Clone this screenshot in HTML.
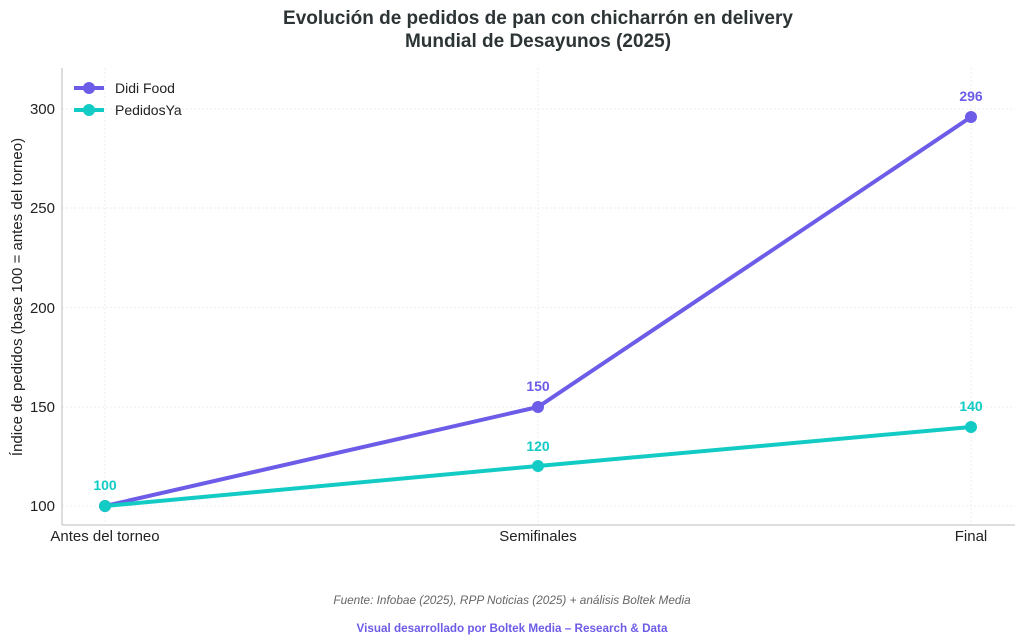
<!DOCTYPE html>
<html><head><meta charset="utf-8"><style>
body{margin:0;background:#fff;}
svg{display:block;font-family:"Liberation Sans",sans-serif;}
</style></head><body>
<svg width="1024" height="644" viewBox="0 0 1024 644" xmlns="http://www.w3.org/2000/svg">
<rect width="1024" height="644" fill="#fff"/>
<text x="538" y="24" text-anchor="middle" font-size="19" font-weight="bold" fill="#2d3436">Evolución de pedidos de pan con chicharrón en delivery</text>
<text x="538" y="47" text-anchor="middle" font-size="19" font-weight="bold" fill="#2d3436">Mundial de Desayunos (2025)</text>
<g stroke="#ededed" stroke-width="1" stroke-dasharray="2,2">
<line x1="62" x2="1015" y1="506" y2="506"/>
<line x1="62" x2="1015" y1="407" y2="407"/>
<line x1="62" x2="1015" y1="307.5" y2="307.5"/>
<line x1="62" x2="1015" y1="208" y2="208"/>
<line x1="62" x2="1015" y1="109" y2="109"/>
<line x1="105" x2="105" y1="68" y2="525"/>
<line x1="538" x2="538" y1="68" y2="525"/>
<line x1="971" x2="971" y1="68" y2="525"/>
</g>
<line x1="62" y1="68" x2="62" y2="525" stroke="#bbb"/>
<line x1="62" y1="525" x2="1015" y2="525" stroke="#bbb"/>
<g font-size="15" fill="#222" text-anchor="end">
<text x="55" y="511">100</text><text x="55" y="412">150</text><text x="55" y="313">200</text><text x="55" y="213">250</text><text x="55" y="114">300</text>
</g>
<g font-size="15" fill="#222" text-anchor="middle">
<text x="105" y="541">Antes del torneo</text><text x="538" y="541">Semifinales</text><text x="971" y="541">Final</text>
</g>
<text transform="translate(22,297) rotate(-90)" text-anchor="middle" font-size="15" fill="#222">Índice de pedidos (base 100 = antes del torneo)</text>
<polyline points="105,506 538,407 971,117" fill="none" stroke="#6c5ce7" stroke-width="4"/>
<polyline points="105,506 538,466 971,427" fill="none" stroke="#12cbc4" stroke-width="4"/>
<g fill="#6c5ce7"><circle cx="105" cy="506" r="6"/><circle cx="538" cy="407" r="6"/><circle cx="971" cy="117" r="6"/></g>
<g fill="#12cbc4"><circle cx="105" cy="506" r="6"/><circle cx="538" cy="466" r="6"/><circle cx="971" cy="427" r="6"/></g>
<g font-size="14" font-weight="bold" text-anchor="middle">
<text x="105" y="490" fill="#12cbc4">100</text>
<text x="538" y="391" fill="#6c5ce7">150</text>
<text x="971" y="101" fill="#6c5ce7">296</text>
<text x="538" y="451" fill="#12cbc4">120</text>
<text x="971" y="411" fill="#12cbc4">140</text>
</g>
<line x1="74" y1="88" x2="104" y2="88" stroke="#6c5ce7" stroke-width="4"/><circle cx="89" cy="88" r="6" fill="#6c5ce7"/>
<text x="115" y="93" font-size="14" fill="#222">Didi Food</text>
<line x1="74" y1="110" x2="104" y2="110" stroke="#12cbc4" stroke-width="4"/><circle cx="89" cy="110" r="6" fill="#12cbc4"/>
<text x="115" y="115" font-size="14" fill="#222">PedidosYa</text>
<text x="512" y="604" text-anchor="middle" font-size="11.8" font-style="italic" fill="#666">Fuente: Infobae (2025), RPP Noticias (2025) + análisis Boltek Media</text>
<text x="512" y="632" text-anchor="middle" font-size="11.7" font-weight="bold" fill="#6c5ce7">Visual desarrollado por Boltek Media – Research &amp; Data</text>
</svg>
</body></html>
